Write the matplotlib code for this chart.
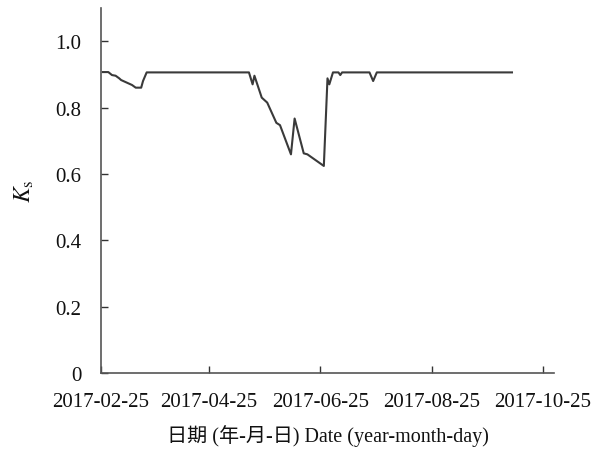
import matplotlib
matplotlib.use("Agg")
import matplotlib.pyplot as plt
import matplotlib.dates as mdates
import pandas as pd

# ---- data ----
dates = ["2017-02-26", "2017-03-01", "2017-03-03", "2017-03-05", "2017-03-07",
         "2017-03-08", "2017-03-10", "2017-03-12", "2017-03-14", "2017-03-16",
         "2017-03-19", "2017-03-20", "2017-03-22",
         "2017-05-17", "2017-05-19", "2017-05-20", "2017-05-24", "2017-05-27",
         "2017-06-01", "2017-06-03", "2017-06-09", "2017-06-11", "2017-06-16",
         "2017-06-18", "2017-06-27", "2017-06-29", "2017-06-30", "2017-07-02",
         "2017-07-05", "2017-07-06", "2017-07-07", "2017-07-22", "2017-07-24",
         "2017-07-26", "2017-10-08"]
ks = [0.907, 0.907, 0.898, 0.896, 0.888,
      0.883, 0.878, 0.873, 0.868, 0.860,
      0.860, 0.880, 0.906,
      0.906, 0.870, 0.896, 0.830, 0.815,
      0.754, 0.747, 0.659, 0.767, 0.662,
      0.659, 0.624, 0.888, 0.870, 0.906,
      0.906, 0.898, 0.906, 0.906, 0.880,
      0.906, 0.906]

tick_dates = ["2017-02-25", "2017-04-25", "2017-06-25", "2017-08-25", "2017-10-25"]
y_ticks = [0, 0.2, 0.4, 0.6, 0.8, 1.0]
y_labels = ["0", "0.2", "0.4", "0.6", "0.8", "1.0"]

plt.rcParams["font.family"] = ["Liberation Serif", "Noto Sans CJK SC"]
plt.rcParams["mathtext.fontset"] = "stix"

fig = plt.figure(figsize=(6.03, 4.52), dpi=100)
ax = fig.add_axes([0.1675, 0.1726, 0.7512, 0.8074])

ax.plot(pd.to_datetime(dates), ks, color="#3a3a3a", lw=1.5)

ax.set_xlim(pd.Timestamp("2017-02-25"), pd.Timestamp("2017-10-31"))
ax.set_ylim(0, 1.1)
ax.set_xticks(pd.to_datetime(tick_dates))
ax.xaxis.set_major_formatter(mdates.DateFormatter("%Y-%m-%d"))
ax.set_yticks(y_ticks)
ax.set_yticklabels(y_labels)

for s in ["top", "right"]:
    ax.spines[s].set_visible(False)
for s in ["left", "bottom"]:
    ax.spines[s].set_color("#555555")
    ax.spines[s].set_linewidth(1.2)

ax.tick_params(direction="in", length=5, width=1, color="#333333",
               labelsize=15, labelcolor="#111111")
ax.tick_params(axis="x", pad=14)
ax.tick_params(axis="y", pad=14)

ax.set_xlabel("日期 (年-月-日) Date (year-month-day)", fontsize=14.5,
              labelpad=9, color="#111111")
ax.set_ylabel(r"$K_{\rm s}$", fontsize=17, labelpad=14, color="#111111")

fig.savefig("out.png", dpi=100)
